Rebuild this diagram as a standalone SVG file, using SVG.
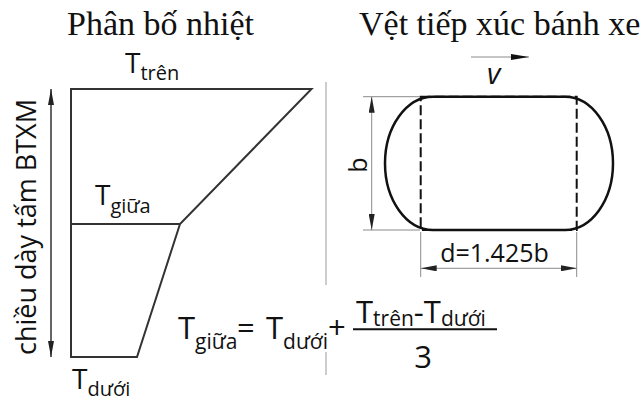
<svg xmlns="http://www.w3.org/2000/svg" width="644" height="401" viewBox="0 0 644 401">
<style>
.title{font-family:"Liberation Serif","Times New Roman",serif;font-size:34px;fill:#111}
.s{font-family:"Open Sans","Noto Sans",sans-serif;fill:#111}
.lbl{font-size:28px}
.sub{font-size:20px}
.f{font-size:31px}
.fs{font-size:21px}
.prof{fill:none;stroke:#333;stroke-width:2;stroke-linejoin:miter}
.dim{stroke:#8a8a8a;stroke-width:1;fill:none}
.sep{stroke:#9a9a9a;stroke-width:1}
</style>
<defs>
<marker id="ah" viewBox="0 0 16 6" refX="16" refY="3" markerWidth="16" markerHeight="6" markerUnits="userSpaceOnUse" orient="auto-start-reverse">
<path d="M0,0 L16,3 L0,6 z" fill="#222"/>
</marker>
<marker id="ah2" viewBox="0 0 18 6" refX="18" refY="3" markerWidth="18" markerHeight="6" markerUnits="userSpaceOnUse" orient="auto-start-reverse">
<path d="M0,0 L18,3 L0,6 z" fill="#111"/>
</marker>
</defs>
<rect width="644" height="401" fill="#fff"/>

<g id="title-left"><text class="title" x="67" y="35">Phân bố nhiệt</text></g>
<g id="title-right"><text class="title" x="359" y="35">Vệt tiếp xúc bánh xe</text></g>

<g id="separator">
<line class="sep" x1="326" y1="82" x2="326" y2="285"/>
<line class="sep" x1="326" y1="352" x2="326" y2="375"/>
</g>

<g id="temperature-profile">
<polygon class="prof" points="71,89 311.5,89 180,224 137,357 71,357"/>
<line class="prof" x1="71" y1="224" x2="180" y2="224"/>
</g>

<g id="label-tren"><text class="s lbl" x="125" y="73">T<tspan class="sub" dy="7">trên</tspan></text></g>
<g id="label-giua"><text class="s lbl" x="95" y="205">T<tspan class="sub" dy="8">giữa</tspan></text></g>
<g id="label-duoi"><text class="s lbl" x="72" y="389">T<tspan class="sub" dy="7">dưới</tspan></text></g>

<g id="thickness-label"><text class="s" font-size="27" text-anchor="middle" transform="translate(36,227) rotate(-90)">chiều dày tấm BTXM</text></g>

<g id="contact-patch">
<rect x="420.7" y="96.7" width="156" height="133.3" fill="none" stroke="#111" stroke-width="2" stroke-dasharray="10,4"/>
<path d="M433,96.7 H565 A48,66.65 0 0 1 565,230 H433 A48,66.65 0 0 1 433,96.7 Z" fill="none" stroke="#111" stroke-width="2.5"/>
</g>

<g id="dimension-extensions">
<line class="dim" x1="363" y1="96.7" x2="420" y2="96.7"/>
<line class="dim" x1="363" y1="230" x2="420" y2="230"/>
<line class="dim" x1="420.7" y1="232" x2="420.7" y2="277"/>
<line class="dim" x1="576.7" y1="232" x2="576.7" y2="277"/>
</g>

<g id="connectors">
<line x1="51" y1="89" x2="51" y2="357" stroke="#333" stroke-width="1.5" marker-start="url(#ah)" marker-end="url(#ah)"/>
<line class="dim" x1="371.7" y1="96.7" x2="371.7" y2="230" marker-start="url(#ah)" marker-end="url(#ah)"/>
<line class="dim" x1="420.7" y1="268.3" x2="576.7" y2="268.3" marker-start="url(#ah)" marker-end="url(#ah)"/>
<line class="dim" x1="471" y1="57" x2="529" y2="57" marker-end="url(#ah2)"/>
</g>

<g id="label-b"><text class="s" font-size="25" text-anchor="middle" transform="translate(367,165) rotate(-90)">b</text></g>
<g id="label-d"><text class="s" font-size="25" text-anchor="middle" x="494.5" y="262">d=1.425b</text></g>
<g id="label-v"><text class="s" font-size="29" font-style="italic" x="487" y="84">v</text></g>

<g id="formula">
<text class="s f" x="178" y="339">T<tspan class="fs" dy="10">giữa</tspan><tspan x="237" dy="-10">=</tspan></text>
<text class="s f" x="266" y="339">T<tspan class="fs" dy="10">dưới</tspan><tspan x="328" dy="-10">+</tspan></text>
<line x1="353" y1="329.3" x2="497" y2="329.3" stroke="#111" stroke-width="2"/>
<text class="s f" x="356" y="322.5">T<tspan class="fs" dy="3">trên</tspan><tspan dy="-3">-T</tspan><tspan class="fs" dy="3">dưới</tspan></text>
<text class="s f" x="423" y="368" text-anchor="middle">3</text>
</g>
</svg>
